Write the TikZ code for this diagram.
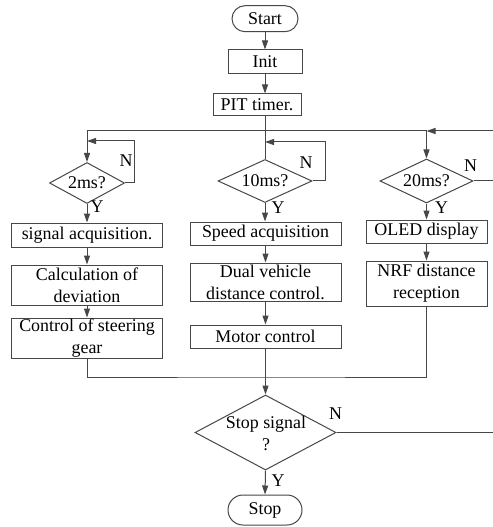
\documentclass[tikz,border=0pt]{standalone}
\usepackage{fontspec}
\setmainfont{Liberation Serif}
\usetikzlibrary{arrows.meta,shapes.geometric}
\begin{document}
\begin{tikzpicture}[x=1bp,y=-1bp,
  every node/.style={font=\fontsize{18}{22}\selectfont},
  line/.style={draw=black!72, line width=1bp},
  arr/.style={line, -{Triangle[length=9bp,width=6bp]}},
  proc/.style={draw=black!72, line width=1bp, rectangle, inner sep=0pt, align=center},
  term/.style={proc, rounded corners=13bp},
  dec/.style={draw=black!72, line width=1bp, diamond, aspect=1.8, inner sep=0pt},
  lbl/.style={inner sep=0pt}]
\fill[white] (0,0) rectangle (493,527);
\useasboundingbox (0,0) rectangle (493,527);
% nodes
\node[term, minimum width=66bp, minimum height=26bp] (start) at (265,18.7) {Start};
\node[proc, minimum width=74bp, minimum height=24bp] (init) at (265,62) {Init};
\node[proc, minimum width=88bp, minimum height=22bp] (pit) at (257,105) {PIT timer.};
\node[dec, minimum width=75bp, minimum height=41bp] (d2) at (87,183) {2ms?};
\node[dec, minimum width=94bp, minimum height=43bp] (d10) at (265,181) {10ms?};
\node[dec, minimum width=93bp, minimum height=44bp] (d20) at (426.5,181) {20ms?};
\node[proc, minimum width=150bp, minimum height=24bp] (sig) at (87,235) {signal acquisition.};
\node[proc, minimum width=151bp, minimum height=23bp] (speed) at (265.5,233.5) {Speed acquisition};
\node[proc, minimum width=121bp, minimum height=23bp] (oled) at (426.5,231.5) {OLED display};
\node[proc, minimum width=150bp, minimum height=40bp] (calc) at (87,285) {Calculation of\\deviation};
\node[proc, minimum width=151bp, minimum height=38bp] (dual) at (265.5,282) {Dual vehicle\\distance control.};
\node[proc, minimum width=121bp, minimum height=45bp] (nrf) at (426.5,283.5) {NRF distance\\reception};
\node[proc, minimum width=150bp, minimum height=40bp] (steer) at (87,338) {Control of steering\\gear};
\node[proc, minimum width=151bp, minimum height=23bp] (motor) at (265.5,336.5) {Motor control};
\node[dec, minimum width=141bp, minimum height=75bp] (stopsig) at (265.5,432.5) {};
\node[lbl, align=center] (stoptxt) at (266,433) {Stop signal\\?};
\node[term, minimum width=74bp, minimum height=30bp, rounded corners=15bp] (stop) at (265,510) {Stop};
% labels
\node[lbl] (n2) at (126,161) {N};
\node[lbl] (y2) at (97,207) {Y};
\node[lbl] (n10) at (306,163) {N};
\node[lbl] (y10) at (278,208) {Y};
\node[lbl] (n20) at (470.5,166) {N};
\node[lbl] (y20) at (441.5,208) {Y};
\node[lbl] (nS) at (335.5,414) {N};
\node[lbl] (yS) at (278,481) {Y};
% coordinates
\coordinate (busL) at (87,131);
\coordinate (busR) at (493,131);
\coordinate (loop2) at (134,141);
\coordinate (loop10) at (325,142);
\coordinate (r20) at (493,181);
\coordinate (merge) at (265.5,377);
\coordinate (rS) at (493,432.5);
% connectors
\draw[arr] (start) -- (init);
\draw[arr] (init.south) -- (init.south |- pit.north);
\draw[line] (pit.south -| d10.north) -- (d10.north);
\draw[arr] (busR) -- (d20.north |- busR);
\draw[line] (d20.north |- busR) -- (busL);
\draw[arr] (busL) -- (d2.north);
\draw[arr] (d20.north |- busR) -- (d20.north);
\draw[arr] (d2.east) -| (loop2) -- (d2.north |- loop2);
\draw[arr] (d10.east) -| (loop10) -- (d10.north |- loop10);
\draw[line] (d20.east) -- (r20);
\draw[arr] (d2.south) -- (sig.north);
\draw[arr] (d10.south) -- (speed.north -| d10.south);
\draw[arr] (d20.south) -- (oled.north);
\draw[arr] (sig) -- (calc);
\draw[arr] (calc) -- (steer);
\draw[arr] (speed) -- (dual);
\draw[arr] (dual) -- (motor);
\draw[arr] (oled) -- (nrf);
\draw[line] (steer.south) |- (merge) -| (nrf.south);
\draw[arr] (motor.south) -- (stopsig.north);
\draw[line] (stopsig.east) -- (rS);
\draw[arr] (stopsig.south) -- (stop.north);
\end{tikzpicture}
\end{document}
